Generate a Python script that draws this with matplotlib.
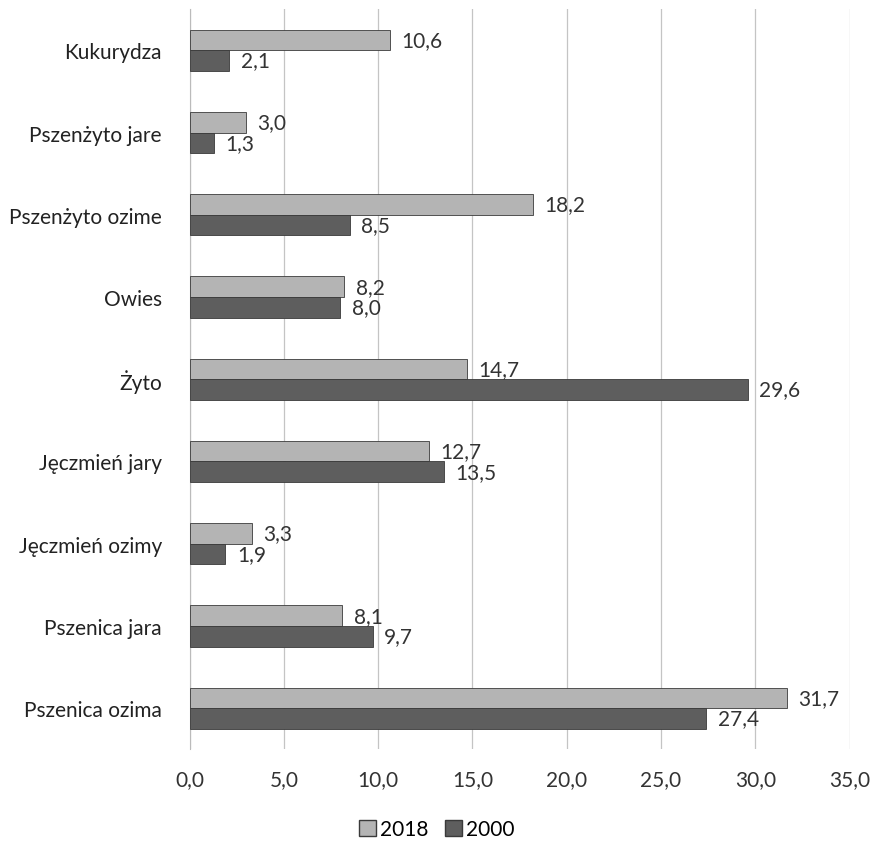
import matplotlib
matplotlib.use("Agg")
import matplotlib.pyplot as plt
import numpy as np
from matplotlib.patches import Patch

plt.rcParams['font.family'] = ['Lato', 'DejaVu Sans']

crops = ["Kukurydza", "Pszenżyto jare", "Pszenżyto ozime", "Owies", "Żyto",
         "Jęczmień jary", "Jęczmień ozimy", "Pszenica jara", "Pszenica ozima"]
share_2018 = [10.6, 3.0, 18.2, 8.2, 14.7, 12.7, 3.3, 8.1, 31.7]
share_2000 = [2.1, 1.3, 8.5, 8.0, 29.6, 13.5, 1.9, 9.7, 27.4]
x_ticks = [0, 5, 10, 15, 20, 25, 30, 35]

light = "#b4b4b4"
dark = "#5e5e5e"
edge = "#3a3a3a"
fs = 15

fig = plt.figure(figsize=(8.74, 8.45), dpi=100)
ax = fig.add_axes([0.217, 0.112, 0.755, 0.876])

n = len(crops)
y = np.arange(n)[::-1].astype(float)
h = 0.25

ax.barh(y + h / 2, share_2018, height=h, color=light, edgecolor=edge, linewidth=0.6, zorder=3)
ax.barh(y - h / 2, share_2000, height=h, color=dark, edgecolor=edge, linewidth=0.6, zorder=3)

fmt = lambda v: f"{v:.1f}".replace(".", ",")
for yy, v in zip(y, share_2018):
    ax.text(v + 0.6, yy + h / 2, fmt(v), va="center", ha="left", fontsize=fs, color="#333333")
for yy, v in zip(y, share_2000):
    ax.text(v + 0.6, yy - h / 2, fmt(v), va="center", ha="left", fontsize=fs, color="#333333")

ax.set_xlim(0, 35)
ax.set_ylim(-0.5, n - 0.5)
ax.set_xticks(x_ticks)
ax.set_xticklabels([fmt(t) for t in x_ticks], fontsize=fs, color="#333333")
ax.set_yticks(y)
ax.set_yticklabels(crops, fontsize=fs, color="#222222")
ax.tick_params(axis="y", length=0, pad=20)
ax.tick_params(axis="x", length=0, pad=14)
ax.xaxis.grid(True, color="#c4c4c4", linewidth=0.9, zorder=0)
for s in ["top", "right", "bottom"]:
    ax.spines[s].set_visible(False)
ax.spines["left"].set_color("#bbbbbb")

handles = [Patch(facecolor=light, edgecolor=edge, label="2018"),
           Patch(facecolor=dark, edgecolor=edge, label="2000")]
fig.legend(handles=handles, loc="center", bbox_to_anchor=(0.5, 0.018), ncol=2, frameon=False,
           fontsize=fs, handlelength=0.8, handleheight=0.8, handletextpad=0.2, columnspacing=0.8)

fig.savefig("out.png", dpi=100, facecolor="white")
